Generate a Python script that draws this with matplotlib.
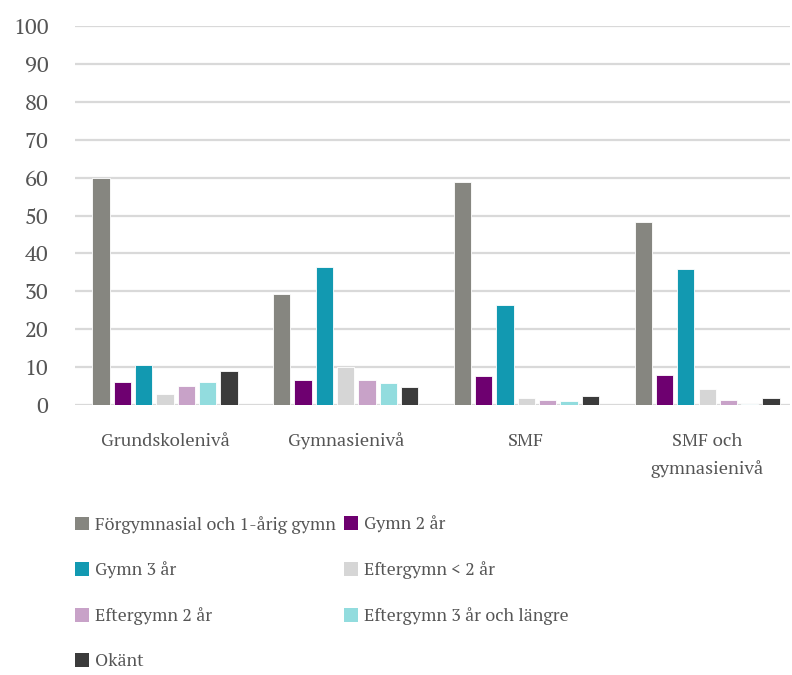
import matplotlib
matplotlib.use("Agg")
import matplotlib.pyplot as plt
import numpy as np
from matplotlib.patches import Patch

categories = ["Grundskolenivå", "Gymnasienivå", "SMF", "SMF och\ngymnasienivå"]
series_names = ["Förgymnasial och 1-årig gymn", "Gymn 2 år", "Gymn 3 år",
                "Eftergymn < 2 år", "Eftergymn 2 år", "Eftergymn 3 år och längre", "Okänt"]
forgymn = [59.8, 29.4, 58.9, 48.2]
gymn2 = [6.0, 6.5, 7.7, 8.0]
gymn3 = [10.6, 36.3, 26.4, 35.8]
efter_lt2 = [2.8, 10.0, 1.9, 4.1]
efter2 = [5.0, 6.6, 1.3, 1.3]
efter3 = [6.0, 5.9, 1.0, 0.3]
okant = [9.0, 4.8, 2.3, 1.9]
yticks = [0, 10, 20, 30, 40, 50, 60, 70, 80, 90, 100]

series = [forgymn, gymn2, gymn3, efter_lt2, efter2, efter3, okant]
colors = ["#868680", "#6E0070", "#1299B1", "#D6D6D6", "#C8A2C8", "#92DCDE", "#3B3B3B"]

plt.rcParams['font.family'] = ['PT Serif', 'Liberation Serif', 'DejaVu Serif']
text_color = "#555555"
fs = 12.8

fig = plt.figure(figsize=(7.92, 6.75), dpi=100)
ax = fig.add_axes([75/792, 270/675, (790-75)/792, (649-270)/675])

x = np.arange(len(categories))
pitch = 0.118
width = 0.095
for i, (vals, c) in enumerate(zip(series, colors)):
    ax.bar(x + (i - 3) * pitch, vals, width=width, color=c, edgecolor="white",
           linewidth=0.6, zorder=3, label=series_names[i])

ax.set_ylim(0, 100)
ax.set_xlim((75 - 165) / 180.7, (790 - 165) / 180.7)
ax.set_yticks(yticks)
ax.set_yticklabels([str(t) for t in yticks], fontsize=16, color=text_color)
ax.set_xticks(x)
ax.set_xticklabels(categories, fontsize=13.3, color=text_color, linespacing=1.75)
ax.tick_params(axis='both', length=0)
ax.tick_params(axis='x', pad=20)
ax.tick_params(axis='y', pad=19)
ax.grid(axis='y', color="#D9D9D9", linewidth=1.6, zorder=0)
for s in ax.spines.values():
    s.set_visible(False)

handles = [Patch(facecolor=c, edgecolor='none') for c in colors]
col1 = [0, 2, 4, 6]
col2 = [1, 3, 5]
kw = dict(frameon=False, fontsize=fs, handlelength=0.8, handleheight=0.8,
          handletextpad=0.3, labelspacing=1.58, borderpad=0, borderaxespad=0,
          labelcolor=text_color)
fig.legend([handles[i] for i in col1], [series_names[i] for i in col1],
           loc="upper left", bbox_to_anchor=(75/792, 1 - 516/675), **kw)
fig.legend([handles[i] for i in col2], [series_names[i] for i in col2],
           loc="upper left", bbox_to_anchor=(344/792, 1 - 516/675), **kw)

fig.savefig("out.png", dpi=100)
